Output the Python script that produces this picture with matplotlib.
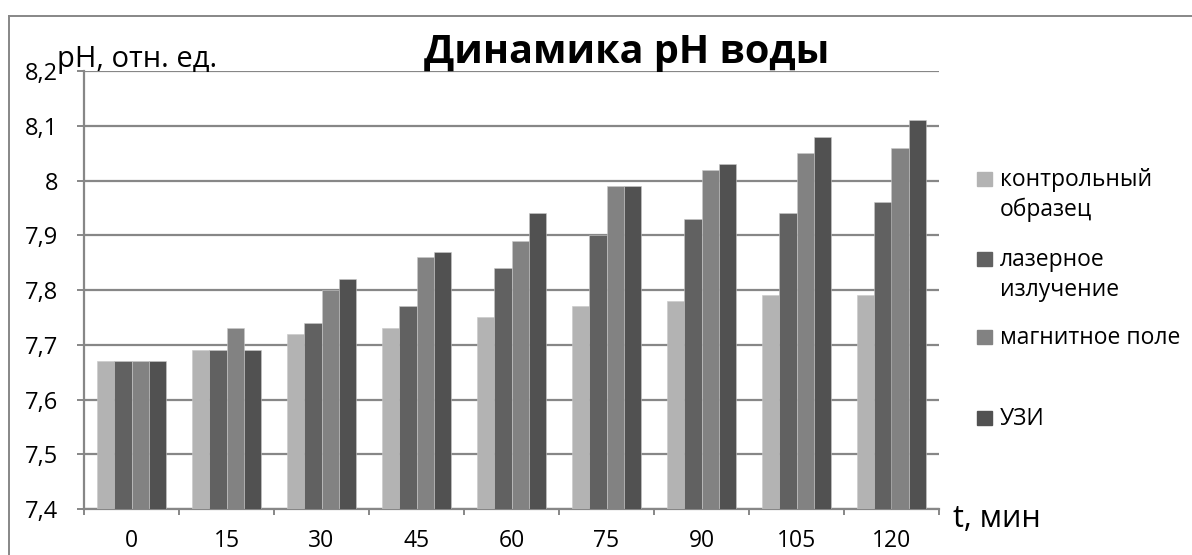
import matplotlib
matplotlib.use('Agg')
import matplotlib.pyplot as plt
from matplotlib.patches import Rectangle
from matplotlib.lines import Line2D
from matplotlib.ticker import FixedLocator, FuncFormatter
import numpy as np

# pH readings over time for each treatment
times = [0, 15, 30, 45, 60, 75, 90, 105, 120]
series_names = ['контрольный\nобразец', 'лазерное\nизлучение', 'магнитное поле', 'УЗИ']
control = [7.67, 7.69, 7.72, 7.73, 7.75, 7.77, 7.78, 7.79, 7.79]
laser = [7.67, 7.69, 7.74, 7.77, 7.84, 7.90, 7.93, 7.94, 7.96]
magnetic = [7.67, 7.73, 7.80, 7.86, 7.89, 7.99, 8.02, 8.05, 8.06]
ultrasound = [7.67, 7.69, 7.82, 7.87, 7.94, 7.99, 8.03, 8.08, 8.11]
y_ticks = [7.4, 7.5, 7.6, 7.7, 7.8, 7.9, 8.0, 8.1, 8.2]

colors = ['#b3b3b3', '#616161', '#828282', '#515151']
grid_color = '#878787'

plt.rcParams['font.family'] = ['Open Sans', 'DejaVu Sans']

W, H = 1192, 555
fig = plt.figure(figsize=(W / 100, H / 100), dpi=100)


def fx(px):
    return px / W


def fy(py):
    return 1 - py / H


ax = fig.add_axes([fx(84), fy(509), fx(939) - fx(84), fy(71) - fy(509)])

data = [control, laser, magnetic, ultrasound]
x = np.arange(len(times))
bw = 0.182
for i, (vals, c) in enumerate(zip(data, colors)):
    offs = (i - 1.5) * bw
    ax.bar(x + offs, np.array(vals) - 7.4, bottom=7.4, width=bw, color=c,
           edgecolor='#c8c8c8', linewidth=0.4, zorder=3)

ax.set_xlim(-0.5, len(times) - 0.5)
ax.set_ylim(7.4, 8.2)

# horizontal gridlines
ax.set_yticks(y_ticks)
ax.yaxis.set_major_formatter(FuncFormatter(lambda v, p: ('%g' % round(v, 1)).replace('.', ',')))
ax.grid(axis='y', color=grid_color, linewidth=1.6, zorder=0)
ax.tick_params(axis='y', length=5, width=1.4, color=grid_color, pad=13.5,
               labelsize=17, labelcolor='black')

# category boundary ticks on x axis, labels at centres
ax.xaxis.set_major_locator(FixedLocator(np.arange(-0.5, len(times), 1.0)))
ax.xaxis.set_major_formatter(FuncFormatter(lambda v, p: ''))
ax.set_xticks(x, [str(t) for t in times], minor=True)
ax.tick_params(axis='x', which='major', length=4.5, width=1.4, color=grid_color, direction='out')
ax.tick_params(axis='x', which='minor', length=0, pad=14.5, labelsize=16.5)

for s in ['top', 'right']:
    ax.spines[s].set_visible(False)
ax.spines['left'].set_color(grid_color)
ax.spines['left'].set_linewidth(1.6)
ax.spines['bottom'].set_color(grid_color)
ax.spines['bottom'].set_linewidth(1.6)
ax.set_axisbelow(True)

# outer chart frame
fig.add_artist(Line2D([fx(9), fx(9)], [fy(16), 0], color=grid_color, lw=1.4))
fig.add_artist(Line2D([fx(9), 1], [fy(16), fy(16)], color=grid_color, lw=1.4))

# titles
fig.text(fx(627), fy(63), 'Динамика pH воды', fontsize=28.5, fontweight='bold',
         ha='center', va='baseline')
fig.text(fx(57), fy(67), 'pH, отн. ед.', fontsize=21, ha='left', va='baseline')
fig.text(fx(953), fy(527), 't, мин', fontsize=22, ha='left', va='baseline')

# legend, one block per series
line_step = 30
entry_baselines = [186, 266, 344, 425]
for name, c, base in zip(series_names, colors, entry_baselines):
    fig.add_artist(Rectangle((fx(977), fy(base)), fx(15), 14 / H, color=c,
                             transform=fig.transFigure))
    for k, line in enumerate(name.split('\n')):
        fig.text(fx(1000), fy(base + k * line_step), line, fontsize=16.5,
                 ha='left', va='baseline')

fig.savefig('out.png', dpi=100)
